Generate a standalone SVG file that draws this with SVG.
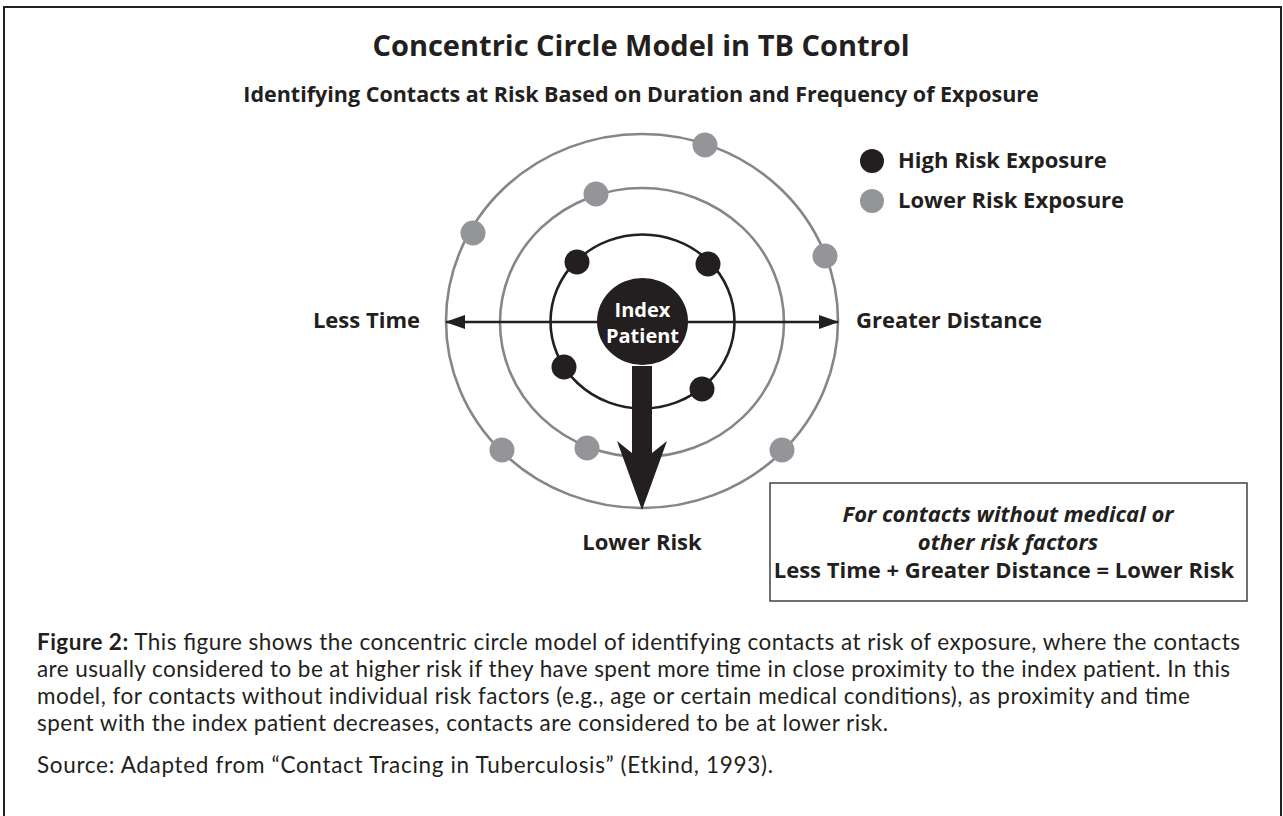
<svg xmlns="http://www.w3.org/2000/svg" width="1283" height="816" viewBox="0 0 1283 816">
<style>
text{font-family:"Open Sans","Liberation Sans",sans-serif;fill:#231f20}
.b{font-weight:700}
.ring{fill:none;stroke:#858689;stroke-width:2.6}
.inner{fill:none;stroke:#231f20;stroke-width:2.6}
.hi{fill:#231f20}
.lo{fill:#939598}
.lbl{font-size:22px;font-weight:700}
.cap{font-family:Lato,"Open Sans",sans-serif;font-size:22.5px}
</style>
<defs>
<marker id="ah" viewBox="0 0 20 14" refX="19" refY="7" markerWidth="20" markerHeight="14" markerUnits="userSpaceOnUse" orient="auto-start-reverse">
<path d="M0,0 L20,7 L0,14 Z" fill="#231f20"/>
</marker>
</defs>
<rect x="4" y="7" width="1277" height="830" fill="#fff" stroke="#231f20" stroke-width="2"/>
<g id="title">
<text x="641" y="56" text-anchor="middle" class="b" font-size="29">Concentric Circle Model in TB Control</text>
<text x="641" y="102" text-anchor="middle" class="b" font-size="21.5">Identifying Contacts at Risk Based on Duration and Frequency of Exposure</text>
</g>
<g id="rings">
<ellipse class="ring" cx="642" cy="321" rx="196" ry="187"/>
<ellipse class="ring" cx="642" cy="322.5" rx="142" ry="134.5"/>
<ellipse class="inner" cx="642.5" cy="321.5" rx="92" ry="87"/>
</g>
<g id="connectors">
<line x1="446" y1="322" x2="838" y2="322" stroke="#231f20" stroke-width="2.7" marker-start="url(#ah)" marker-end="url(#ah)"/>
<path d="M632,366 H652 V453 L667,441 L642,510 L617,441 L632,453 Z" fill="#231f20"/>
</g>
<g id="index-patient">
<ellipse cx="642.5" cy="321.5" rx="45.5" ry="43.5" fill="#231f20"/>
<text x="642.5" y="317" text-anchor="middle" class="b" font-size="20" style="fill:#fff">Index</text>
<text x="642.5" y="343" text-anchor="middle" class="b" font-size="20" style="fill:#fff">Patient</text>
</g>
<g id="high-risk-contacts">
<circle class="hi" cx="577" cy="262" r="12.5"/>
<circle class="hi" cx="708" cy="264" r="12.5"/>
<circle class="hi" cx="564" cy="367" r="12.5"/>
<circle class="hi" cx="702" cy="389" r="12.5"/>
</g>
<g id="lower-risk-contacts">
<circle class="lo" cx="705" cy="145" r="12.5"/>
<circle class="lo" cx="596" cy="194" r="12.5"/>
<circle class="lo" cx="473" cy="233" r="12.5"/>
<circle class="lo" cx="825" cy="256" r="12.5"/>
<circle class="lo" cx="502" cy="450" r="12.5"/>
<circle class="lo" cx="587" cy="448" r="12.5"/>
<circle class="lo" cx="782" cy="450" r="12.5"/>
</g>
<g id="axis-labels">
<text x="420" y="328" text-anchor="end" class="lbl">Less Time</text>
<text x="856" y="328" class="lbl">Greater Distance</text>
<text x="642" y="550" text-anchor="middle" class="lbl">Lower Risk</text>
</g>
<g id="legend">
<circle class="hi" cx="872" cy="161" r="12"/>
<text x="898" y="168" class="lbl">High Risk Exposure</text>
<circle class="lo" cx="872" cy="201" r="12"/>
<text x="898" y="208" class="lbl">Lower Risk Exposure</text>
</g>
<g id="note-box">
<rect x="770" y="483" width="477" height="118" fill="#fff" stroke="#414042" stroke-width="1.5"/>
<text x="1008" y="522" text-anchor="middle" class="lbl" font-style="italic">For contacts without medical or</text>
<text x="1008" y="550" text-anchor="middle" class="lbl" font-style="italic">other risk factors</text>
<text x="1004" y="578" text-anchor="middle" class="lbl">Less Time + Greater Distance = Lower Risk</text>
</g>
<g id="caption">
<text x="37" y="650" class="cap" textLength="1203" lengthAdjust="spacing"><tspan class="b">Figure 2:</tspan> This figure shows the concentric circle model of identifying contacts at risk of exposure, where the contacts</text>
<text x="37" y="677" class="cap" textLength="1193" lengthAdjust="spacing">are usually considered to be at higher risk if they have spent more time in close proximity to the index patient. In this</text>
<text x="37" y="704" class="cap" textLength="1153" lengthAdjust="spacing">model, for contacts without individual risk factors (e.g., age or certain medical conditions), as proximity and time</text>
<text x="37" y="731" class="cap" textLength="851" lengthAdjust="spacing">spent with the index patient decreases, contacts are considered to be at lower risk.</text>
<text x="37" y="773" class="cap" textLength="736" lengthAdjust="spacing">Source: Adapted from “Contact Tracing in Tuberculosis” (Etkind, 1993).</text>
</g>
</svg>
